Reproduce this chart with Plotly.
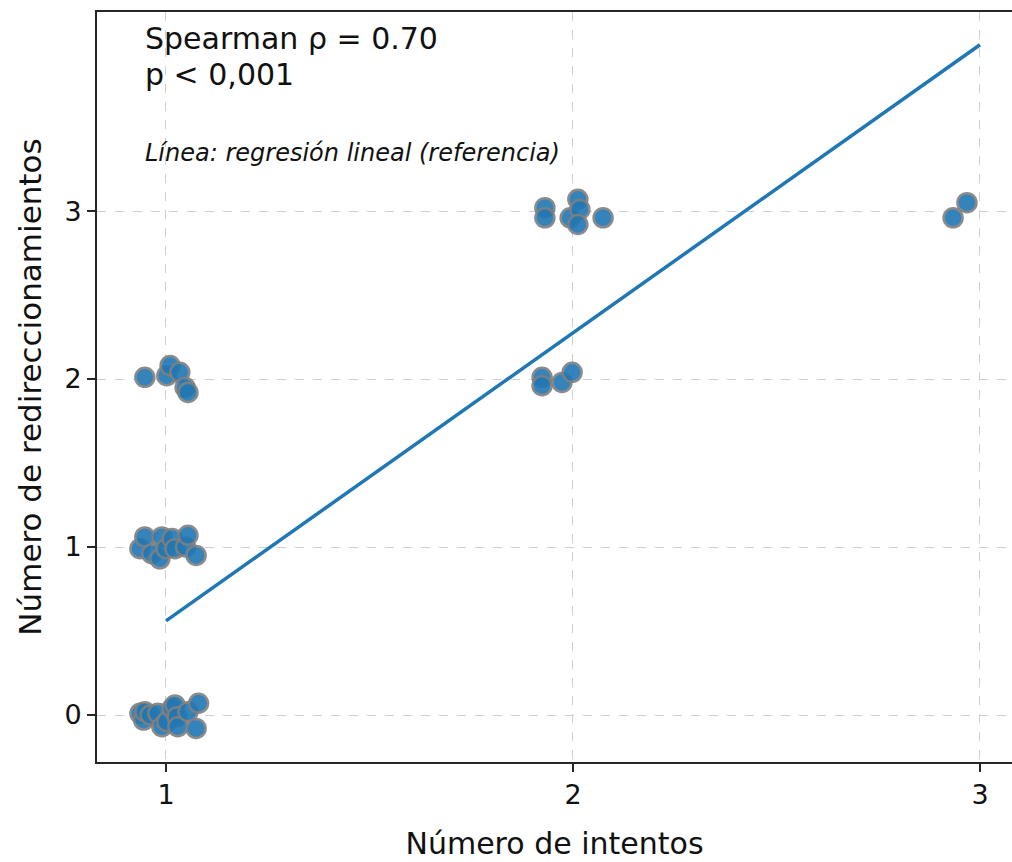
import plotly.graph_objects as go

# Jittered observations: attempts (x) vs redirections (y)
intentos = [
    # y = 0 at x = 1
    0.936, 0.945, 0.948, 0.961, 0.980, 0.990, 1.002, 1.015, 1.022, 1.027, 1.029, 1.054, 1.074, 1.080,
    # y = 1 at x = 1
    0.936, 0.948, 0.965, 0.985, 0.990, 1.000, 1.015, 1.022, 1.048, 1.054, 1.074,
    # y = 2 at x = 1
    0.948, 1.002, 1.010, 1.034, 1.047, 1.054,
    # y = 2 at x = 2
    1.924, 1.924, 1.973, 1.998,
    # y = 3 at x = 2
    1.931, 1.931, 1.993, 2.012, 2.017, 2.012, 2.074,
    # y = 3 at x = 3
    2.934, 2.968,
]
redirecciones = [
    0.01, -0.03, 0.02, 0.00, 0.01, -0.07, -0.04, 0.04, 0.06, -0.01, -0.07, 0.02, -0.08, 0.07,
    0.99, 1.06, 0.96, 0.93, 1.06, 0.99, 1.05, 0.99, 1.00, 1.07, 0.95,
    2.01, 2.02, 2.08, 2.04, 1.95, 1.92,
    2.01, 1.96, 1.98, 2.04,
    3.02, 2.96, 2.96, 3.07, 3.01, 2.92, 2.96,
    2.96, 3.05,
]

# Reference linear fit
pendiente = 1.715
intercepto = -1.155
x_linea = [1, 3]
y_linea = [intercepto + pendiente * v for v in x_linea]

x_ticks = [1, 2, 3]
y_ticks = [0, 1, 2, 3]

FONT = "DejaVu Sans"
AZUL = "#1f77b4"
EJE = "#262626"
TEXTO = "#111111"

fig = go.Figure()
fig.add_trace(go.Scatter(
    x=intentos, y=redirecciones, mode="markers",
    marker=dict(size=19, color=AZUL, opacity=0.9,
                line=dict(color="#7f7f7f", width=2.5)),
    showlegend=False, hoverinfo="skip",
))
fig.add_trace(go.Scatter(
    x=x_linea, y=y_linea, mode="lines",
    line=dict(color=AZUL, width=3.5),
    showlegend=False, hoverinfo="skip",
))

eje_comun = dict(
    showline=True, linecolor=EJE, linewidth=2,
    ticks="outside", ticklen=8, tickwidth=2, tickcolor=EJE,
    showgrid=True, gridcolor="#cfcfcf", griddash="dash", gridwidth=1,
    zeroline=False,
    tickfont=dict(family=FONT, size=27, color=TEXTO),
)

fig.update_xaxes(
    **eje_comun, mirror=True,
    range=[0.8305, 3.0787], tickvals=x_ticks, ticktext=[str(t) for t in x_ticks],
    title=dict(text="Número de intentos", font=dict(family=FONT, size=30, color=TEXTO),
               standoff=24),
)
fig.update_yaxes(
    **eje_comun, mirror=False,
    range=[-0.2798, 4.185], tickvals=y_ticks, ticktext=[str(t) for t in y_ticks],
    title=dict(text="Número de redireccionamientos", font=dict(family=FONT, size=31, color=TEXTO),
               standoff=14),
)

ann_font = dict(family=FONT, size=30, color=TEXTO)
fig.add_annotation(xref="paper", yref="paper", x=0.0503, y=0.9653,
                   xanchor="left", yanchor="middle", showarrow=False,
                   text="Spearman ρ = 0.70", font=ann_font)
fig.add_annotation(xref="paper", yref="paper", x=0.0503, y=0.916,
                   xanchor="left", yanchor="middle", showarrow=False,
                   text="p &lt; 0,001", font=ann_font)
fig.add_annotation(xref="paper", yref="paper", x=0.0503, y=0.812,
                   xanchor="left", yanchor="middle", showarrow=False,
                   text="<i>Línea: regresión lineal (referencia)</i>",
                   font=dict(family=FONT, size=24, color=TEXTO))

fig.update_layout(
    width=1012, height=862,
    margin=dict(l=97, r=0, t=12, b=100),
    paper_bgcolor="white", plot_bgcolor="white",
    font=dict(family=FONT),
)

fig.write_html("out.html")
